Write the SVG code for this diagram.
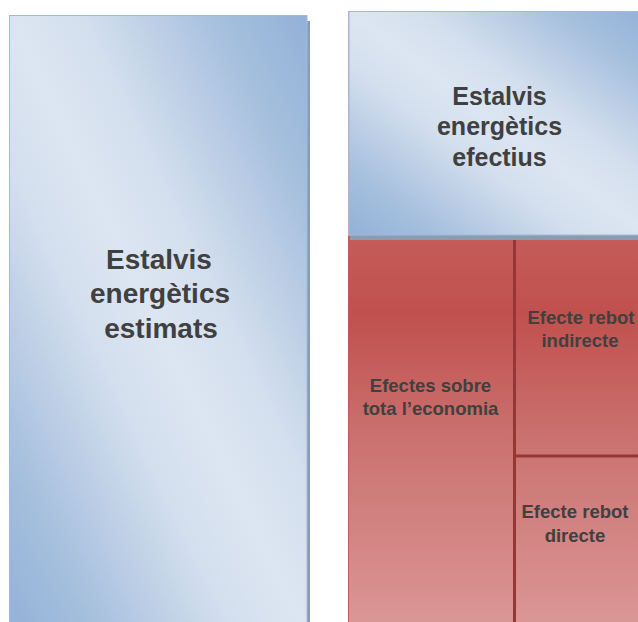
<svg xmlns="http://www.w3.org/2000/svg" width="638" height="622" viewBox="0 0 638 622">
  <style>
    .big { font-family: "Liberation Sans", Arial, sans-serif; font-weight: bold; fill: #404040; text-anchor: middle; }
    .small { font-family: "Liberation Sans", Arial, sans-serif; font-weight: bold; font-size: 18.5px; fill: #404040; text-anchor: middle; }
    .shadow { fill: #8C9CB0; }
    .divider { stroke: #953735; stroke-width: 3; fill: none; }
  </style>
  <defs>
    <!-- soft diagonal blue sheen: dark corners top-right / bottom-left -->
    <linearGradient id="blueSheen" x1="1" y1="0" x2="0" y2="1">
      <stop offset="0" stop-color="#93B1D7"/>
      <stop offset="0.14" stop-color="#A4BEDD"/>
      <stop offset="0.38" stop-color="#D4DFEE"/>
      <stop offset="0.5" stop-color="#DCE6F2"/>
      <stop offset="0.62" stop-color="#D4DFEE"/>
      <stop offset="0.86" stop-color="#A4BEDD"/>
      <stop offset="1" stop-color="#93B1D7"/>
    </linearGradient>
    <!-- red block fades lighter toward the bottom -->
    <linearGradient id="redFade" gradientUnits="userSpaceOnUse" x1="0" y1="236" x2="0" y2="622">
      <stop offset="0" stop-color="#C55C59"/>
      <stop offset="0.2" stop-color="#C0504D"/>
      <stop offset="0.55" stop-color="#CB7472"/>
      <stop offset="1" stop-color="#DA9695"/>
    </linearGradient>
  </defs>

  <!-- left column: estimated savings -->
  <g id="node-estimats">
    <rect class="shadow" x="307" y="21" width="3" height="610"/>
    <rect x="9.5" y="15.5" width="297.5" height="620" fill="url(#blueSheen)" stroke="#9DBAE0" stroke-width="1"/>
    <text class="big" font-size="28" x="159" y="269">Estalvis</text>
    <text class="big" font-size="28" x="160" y="303">energètics</text>
    <text class="big" font-size="28" x="161" y="338">estimats</text>
  </g>

  <!-- right column, lower part: red block split into three cells -->
  <g id="node-economia">
    <line x1="348.5" y1="11" x2="348.5" y2="236" stroke="#D6A5A8" stroke-width="1"/>
    <rect x="348.5" y="236" width="300" height="400" fill="url(#redFade)" stroke="#C65855" stroke-width="1"/>
    <text class="small" x="430.5" y="392">Efectes sobre</text>
    <text class="small" x="430.5" y="415">tota l’economia</text>
  </g>
  <g id="node-indirecte">
    <text class="small" x="581" y="324">Efecte rebot</text>
    <text class="small" x="580" y="347">indirecte</text>
  </g>
  <g id="node-directe">
    <text class="small" x="575" y="518">Efecte rebot</text>
    <text class="small" x="575" y="542">directe</text>
  </g>
  <g id="dividers">
    <line class="divider" x1="514.5" y1="236" x2="514.5" y2="622"/>
    <line class="divider" x1="514" y1="456" x2="638" y2="456"/>
  </g>

  <!-- right column, upper part: effective savings -->
  <g id="node-efectius">
    <rect class="shadow" x="350" y="235" width="300" height="5"/>
    <rect x="349" y="11.5" width="300" height="223.5" fill="url(#blueSheen)" stroke="#9DBAE0" stroke-width="1"/>
    <text class="big" font-size="25" x="499.5" y="105">Estalvis</text>
    <text class="big" font-size="25" x="499.5" y="135">energètics</text>
    <text class="big" font-size="25" x="499.5" y="166">efectius</text>
  </g>
</svg>
